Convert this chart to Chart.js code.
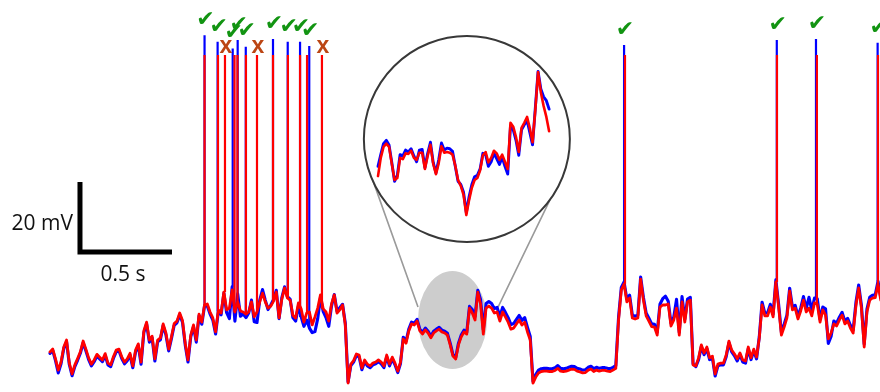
<!DOCTYPE html>
<html>
<head>
<meta charset="utf-8">
<script src="https://cdn.jsdelivr.net/npm/chart.js@4.4.1/dist/chart.umd.min.js"></script>
<style>
  html, body { margin: 0; padding: 0; background: #ffffff; }
  #wrap { position: relative; width: 880px; height: 392px; }
</style>
</head>
<body>
<div id="wrap"><canvas id="trace"></canvas></div>
<script>
// Membrane potential (mV), sampled every DT seconds from t = 0.
const DT = 0.015;

const redTrace = [
  -63.4, -62.6, -65.4, -68.6, -66.3, -62, -60, -66.6, -69.7, -67.1,
  -65.3, -63.4, -60.3, -62.6, -65.1, -66.9, -65.7, -64.1, -64.9, -65.7,
  -63.9, -66.6, -67.1, -64.7, -62.9, -62.6, -64.8, -66.3, -65.4, -63.8,
  -67.4, -62.9, -61.1, -66.3, -57.4, -54.9, -60, -58.9, -65.4, -60,
  -59.4, -55.4, -58, -62.6, -59.1, -55.3, -54.6, -52.3, -54.4, -60.9,
  -65.7, -58.6, -55.7, -60, -52.6, -54.9, -50, -49.7, -52, -53.7,
  -57.7, -51.4, -52.3, -46.3, -51.4, -50.9, -45.7, -52, -49.1, -51.7,
  -52, -52.6, -52, -49.1, -53.4, -52, -49.1, -46.6, -49.1, -50.9,
  -50.3, -48.9, -46.3, -53.7, -48.3, -45.1, -48, -48.6, -52.9, -53.7,
  -49.4, -51.1, -54.9, -52.3, -52, -55.7, -53.4, -50.9, -47.1, -51.1,
  -52, -54.6, -49.7, -47.1, -52.3, -51.4, -50, -55.7, -72.3, -66.9,
  -65.9, -64, -64.3, -68, -65.7, -66.9, -67.4, -66.6, -66.3, -65.7,
  -66.3, -67.4, -64.3, -66.9, -64.9, -66.6, -68.9, -66.3, -59.7, -60.9,
  -57.4, -55.4, -55.7, -54.6, -57.4, -58.3, -57.1, -58, -59.4, -58,
  -57.4, -56.9, -57.7, -58, -58.6, -61.4, -64.6, -65.4, -61.4, -59.1,
  -57.7, -58.3, -50.9, -52.3, -54.3, -46.3, -49.7, -58.3, -50.9, -50.3,
  -50.9, -52.3, -52, -54.6, -52, -53.4, -54.9, -56.9, -56.6, -55.4,
  -54.3, -55.7, -54.9, -57.7, -60, -72.3, -70.6, -69.4, -69, -68.9,
  -68.9, -69, -69, -68.7, -68.1, -68.9, -69, -68.9, -68.6, -68.3,
  -68.4, -68.9, -69.1, -69.4, -69.3, -68.6, -68.3, -69, -68.6, -68.9,
  -68.7, -68.7, -68.9, -69, -68.6, -68.1, -54.3, -45.7, -44, -49.1,
  -48, -53.7, -54, -53.7, -42.6, -48.6, -53.1, -54.6, -56.2, -56.3,
  -58.6, -50.6, -50, -50, -49.7, -56, -54.3, -50.9, -58.6, -49.1,
  -54.9, -49.1, -48.6, -67.1, -67.4, -65.1, -61.4, -63.7, -62, -65.1,
  -64.6, -69.7, -66.9, -66.6, -66.6, -64.3, -60.3, -62.9, -64, -65.4,
  -63.7, -65.7, -66, -62, -65.1, -62.6, -64.9, -59.4, -50, -53.1,
  -53.1, -50.6, -53.4, -43.4, -50.6, -58.6, -56.3, -53.7, -46, -51.4,
  -50.9, -54, -51.7, -48.6, -52, -50.9, -53.1, -49.4, -49.7, -54.9,
  -51.4, -52.9, -59.7, -58, -55.4, -56, -54.3, -52.9, -55.4, -54.6,
  -56.6, -58, -50.3, -45.1, -50.9, -62, -52, -48.6, -48, -47.9,
  -44, -48.6
];

const blueTrace = [
  -63.8, -63.0, -65.9, -69.4, -66.8, -62.4, -60.5, -67.0, -70.2, -67.6,
  -65.8, -63.8, -60.8, -63.1, -65.6, -67.4, -66.2, -64.6, -65.4, -66.2,
  -64.4, -67.1, -67.6, -65.2, -63.4, -63.1, -65.3, -66.8, -65.9, -64.3,
  -67.9, -63.4, -61.6, -66.9, -57.9, -55.4, -60.6, -59.4, -66.0, -60.5,
  -59.9, -55.9, -58.5, -63.1, -59.6, -55.8, -55.1, -52.8, -54.9, -61.4,
  -66.3, -59.1, -56.2, -60.6, -53.1, -55.5, -50.2, -50.3, -52.6, -54.3,
  -58.3, -51.8, -52.8, -46.6, -52.2, -53.9, -44.8, -54.6, -46.8, -53.2,
  -52.6, -53.6, -52.3, -48.6, -54.8, -55.0, -48.6, -45.6, -48.6, -51.3,
  -50.0, -48.4, -45.8, -53.9, -47.9, -44.8, -47.6, -48.3, -53.6, -54.6,
  -50.3, -53.4, -56.1, -54.3, -56.6, -57.9, -57.6, -53.9, -47.9, -51.9,
  -53.6, -56.1, -50.3, -47.0, -51.8, -50.8, -49.8, -55.2, -72.0, -67.3,
  -66.3, -64.5, -64.8, -68.5, -66.2, -67.4, -67.9, -67.1, -66.8, -66.2,
  -66.8, -67.9, -64.8, -67.4, -65.4, -67.1, -69.3, -66.7, -59.2, -60.4,
  -56.9, -54.9, -55.2, -54.1, -56.9, -57.8, -56.6, -57.5, -58.9, -57.5,
  -56.9, -56.4, -57.2, -57.5, -58.1, -60.9, -64.2, -65.0, -60.9, -58.6,
  -57.2, -57.8, -50.4, -51.3, -53.3, -45.8, -48.4, -57.0, -49.6, -49.0,
  -49.6, -51.0, -50.7, -53.3, -50.7, -52.1, -53.6, -55.6, -55.3, -54.1,
  -53.0, -54.4, -53.6, -56.4, -59.0, -71.8, -69.9, -68.6, -68.2, -68.1,
  -68.1, -68.2, -68.2, -67.9, -67.3, -68.1, -68.2, -68.1, -67.8, -67.5,
  -67.6, -68.1, -68.3, -68.6, -68.5, -67.8, -67.5, -68.2, -67.8, -68.1,
  -67.9, -67.9, -68.1, -68.2, -67.8, -67.3, -53.5, -45.0, -43.4, -48.3,
  -47.2, -52.9, -53.2, -52.9, -42.0, -47.8, -52.3, -53.8, -55.4, -55.5,
  -57.8, -49.8, -48.2, -47.5, -48.9, -55.2, -53.5, -48.4, -57.8, -47.6,
  -54.1, -48.3, -47.8, -66.8, -67.6, -65.6, -61.9, -64.2, -62.5, -65.6,
  -65.1, -70.3, -67.4, -67.1, -67.1, -64.8, -60.8, -63.4, -64.5, -66.0,
  -64.2, -66.3, -66.6, -62.5, -65.6, -63.1, -65.4, -59.0, -49.2, -52.3,
  -52.3, -49.8, -52.6, -42.8, -49.8, -57.8, -55.5, -52.9, -45.2, -50.6,
  -50.1, -53.2, -50.9, -47.6, -51.0, -47.8, -51.5, -48.0, -48.2, -54.1,
  -50.6, -51.1, -61.0, -59.0, -54.6, -55.2, -53.5, -52.1, -54.6, -53.8,
  -55.8, -57.2, -49.3, -44.3, -50.1, -61.2, -51.2, -47.8, -47.2, -47.1,
  -43.2, -47.8
];

// Spike times (s) and peak potentials (mV)
const redSpikeT  = [0.840, 0.913, 0.951, 1.003, 1.019, 1.065, 1.125, 1.212, 1.293, 1.359, 1.397, 1.478, 3.125, 3.951, 4.168, 4.500];
const redSpikeV  = [21.4, 21.4, 21.4, 21.4, 21.4, 21.4, 21.4, 21.4, 21.4, 21.4, 21.4, 21.4, 21.4, 21.4, 21.4, 21.4];
const blueSpikeT = [0.840, 0.911, 0.993, 1.020, 1.064, 1.212, 1.292, 1.359, 1.409, 3.120, 3.950, 4.163, 4.498];
const blueSpikeV = [27.1, 25.2, 23.3, 25.7, 23.8, 26.0, 25.2, 25.2, 24.0, 24.3, 25.7, 26.0, 24.9];
// Red spikes without a matching blue spike
const missedT = [0.951, 1.125, 1.478];

// Magnified stretch of the trace, sampled every INSET_DT seconds from INSET_T0
const INSET_T0 = 2.035;
const INSET_DT = 0.005;
const insetRed = [
  -61.1, -58.3, -56.6, -56.1, -56.6, -59.2, -61.7, -61.4, -58.3, -58.5,
  -57.6, -57.7, -57.2, -58.3, -58.6, -57.5, -57.5, -60, -58, -56.3,
  -59.2, -60.8, -59.1, -56.5, -57.5, -57.4, -57.5, -57.8, -59.5, -61.7,
  -62.6, -64, -67.1, -64.8, -62.9, -61.7, -61.4, -60.2, -57.9, -57.4,
  -59, -58.3, -57.2, -57.6, -58.6, -57.8, -58.9, -60, -52.9, -53.5,
  -55.1, -57.4, -53.7, -52.9, -52, -53.7, -55.9, -50.9, -45.1, -48.2,
  -50.3, -52, -54.2
];
const insetBlue = [
  -59.6, -57.8, -56.1, -55.6, -56.3, -59.0, -61.9, -61.0, -57.8, -58.0,
  -57.1, -57.4, -56.9, -58.0, -58.9, -57.1, -57.0, -59.8, -57.6, -55.9,
  -59.0, -60.6, -58.6, -56.0, -57.1, -56.8, -56.9, -57.3, -59.6, -61.9,
  -62.4, -63.6, -66.7, -64.3, -62.4, -61.2, -61.0, -60.0, -57.6, -57.8,
  -59.6, -58.9, -57.6, -58.4, -59.3, -58.2, -59.6, -60.8, -53.4, -54.0,
  -55.6, -57.9, -54.0, -53.2, -52.5, -54.4, -56.3, -50.6, -45.0, -47.7,
  -48.9, -49.5, -50.8
];

// Window of the main trace shown magnified (s, mV)
const zoomT = [2.0, 2.375];
const zoomV = [-68.3, -40.3];

// Scale bar: 0.5 s by 20 mV
const scaleBarT = 0.163, scaleBarV = -34.86;
const scaleBarDt = 0.5, scaleBarDv = 20;

const toPoints = (vals, t0, dt) => vals.map((v, i) => ({ x: t0 + i * dt, y: v }));

function spikeSegments(times, peaks, trace) {
  const pts = [];
  times.forEach((t, i) => {
    const base = trace[Math.min(trace.length - 1, Math.round(t / DT))];
    pts.push({ x: t, y: base }, { x: t, y: peaks[i] }, { x: t, y: null });
  });
  return pts;
}

const BLUE = '#0000ff', RED = '#ff0000';

const lineStyle = (color, width, order, xAxisID, yAxisID) => ({
  borderColor: color, backgroundColor: color, borderWidth: width,
  pointRadius: 0, tension: 0, fill: false, spanGaps: false,
  borderJoinStyle: 'round', borderCapStyle: 'round',
  order, xAxisID, yAxisID
});

const decorations = {
  id: 'decorations',
  beforeDatasetsDraw(chart) {
    const { ctx, scales: { x, y, xi, yi } } = chart;
    ctx.save();
    // shaded region of the magnified window
    const ex0 = x.getPixelForValue(zoomT[0]), ex1 = x.getPixelForValue(zoomT[1]);
    const ey0 = y.getPixelForValue(zoomV[1]), ey1 = y.getPixelForValue(zoomV[0]);
    ctx.fillStyle = '#cdcdcd';
    ctx.beginPath();
    ctx.ellipse((ex0 + ex1) / 2, (ey0 + ey1) / 2, (ex1 - ex0) / 2, (ey1 - ey0) / 2, 0, 0, Math.PI * 2);
    ctx.fill();

    // lens frame
    const cx = xi.getPixelForValue(2.196), cy = yi.getPixelForValue(-55.4), r = 103;
    ctx.strokeStyle = '#9a9a9a';
    ctx.lineWidth = 1.6;
    const leftA = Math.atan2(24, -98.7), rightA = Math.atan2(61, 83.3);
    ctx.beginPath();
    ctx.moveTo(cx + r * Math.cos(leftA), cy + r * Math.sin(leftA));
    ctx.lineTo(x.getPixelForValue(2.0), y.getPixelForValue(-50.6));
    ctx.moveTo(cx + r * Math.cos(rightA), cy + r * Math.sin(rightA));
    ctx.lineTo(x.getPixelForValue(2.435), y.getPixelForValue(-50.6));
    ctx.stroke();

    ctx.fillStyle = '#ffffff';
    ctx.strokeStyle = '#383838';
    ctx.lineWidth = 2;
    ctx.beginPath();
    ctx.arc(cx, cy, r, 0, Math.PI * 2);
    ctx.fill();
    ctx.stroke();
    ctx.restore();
  },
  afterDatasetsDraw(chart) {
    const { ctx, scales: { x, y } } = chart;
    ctx.save();
    // detected spikes
    ctx.fillStyle = '#129412';
    ctx.font = '22px "DejaVu Sans"';
    ctx.textAlign = 'center';
    ctx.textBaseline = 'middle';
    blueSpikeT.forEach((t, i) => {
      ctx.fillText('\u2714', x.getPixelForValue(t) + 1, y.getPixelForValue(blueSpikeV[i]) - 15);
    });
    // spikes only in the red trace
    ctx.fillStyle = '#bc4614';
    ctx.font = 'bold 23px "Liberation Sans"';
    ctx.textBaseline = 'alphabetic';
    missedT.forEach(t => {
      const i = redSpikeT.indexOf(t);
      ctx.fillText('x', x.getPixelForValue(t) + 1, y.getPixelForValue(redSpikeV[i]) - 2);
    });
    // scale bar labels
    ctx.fillStyle = '#111111';
    ctx.font = '21px "Open Sans"';
    ctx.textAlign = 'right';
    ctx.textBaseline = 'middle';
    ctx.fillText('20 mV', x.getPixelForValue(scaleBarT) - 7,
      y.getPixelForValue(scaleBarV + scaleBarDv * 0.4));
    ctx.textAlign = 'center';
    ctx.textBaseline = 'top';
    ctx.fillText('0.5 s', x.getPixelForValue(scaleBarT + scaleBarDt / 2) - 3,
      y.getPixelForValue(scaleBarV) + 13);
    ctx.restore();
  }
};

const hidden = (min, max) => ({ type: 'linear', min, max, display: false });

new Chart(document.getElementById('trace'), {
  type: 'line',
  data: {
    datasets: [
      Object.assign({ label: 'red spikes', data: spikeSegments(redSpikeT, redSpikeV, redTrace) },
        lineStyle(RED, 2.2, 1, 'x', 'y'), { borderCapStyle: 'butt' }),
      Object.assign({ label: 'red', data: toPoints(redTrace, 0, DT) }, lineStyle(RED, 2.8, 2, 'x', 'y')),
      Object.assign({ label: 'blue spikes', data: spikeSegments(blueSpikeT, blueSpikeV, blueTrace) },
        lineStyle(BLUE, 2.2, 3, 'x', 'y'), { borderCapStyle: 'butt' }),
      Object.assign({ label: 'blue', data: toPoints(blueTrace, 0, DT) }, lineStyle(BLUE, 3.1, 4, 'x', 'y')),
      Object.assign({ label: 'red zoom', data: toPoints(insetRed, INSET_T0, INSET_DT) }, lineStyle(RED, 2.6, 5, 'xi', 'yi')),
      Object.assign({ label: 'blue zoom', data: toPoints(insetBlue, INSET_T0, INSET_DT) }, lineStyle(BLUE, 2.9, 6, 'xi', 'yi')),
      Object.assign({
        label: 'scale',
        data: [
          { x: scaleBarT, y: scaleBarV + scaleBarDv },
          { x: scaleBarT, y: scaleBarV },
          { x: scaleBarT + scaleBarDt, y: scaleBarV }
        ]
      }, lineStyle('#000000', 5, 0, 'x', 'y'), { borderJoinStyle: 'miter', borderCapStyle: 'butt' })
    ]
  },
  options: {
    responsive: true,
    maintainAspectRatio: false,
    animation: false,
    devicePixelRatio: 1,
    events: [],
    layout: { padding: 0 },
    plugins: { legend: { display: false }, tooltip: { enabled: false } },
    scales: {
      x: hidden(-0.2717, 4.5109),
      y: hidden(-74.857, 37.143),
      xi: hidden(1.35022, 2.94442),
      yi: hidden(-94.32, -34.01)
    }
  },
  plugins: [decorations]
});
</script>
</body>
</html>
